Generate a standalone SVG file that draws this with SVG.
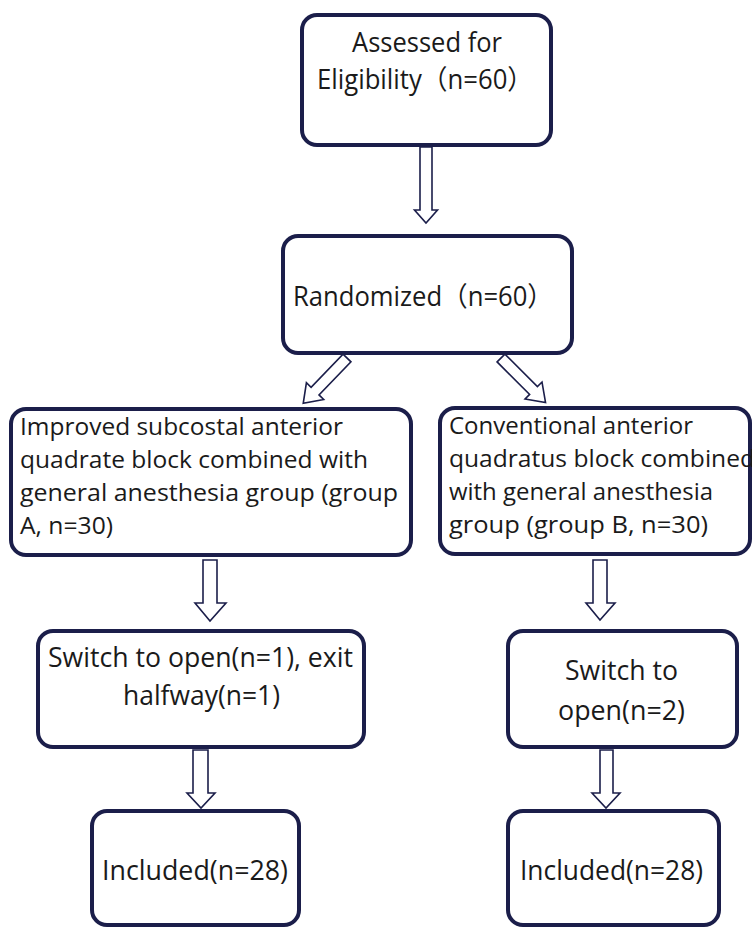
<svg xmlns="http://www.w3.org/2000/svg" width="752" height="929" viewBox="0 0 752 929">
<style>
.box{fill:#fff;stroke:#1b1e4a;stroke-width:4}
.arr{fill:#fff;stroke:#1b1e4a;stroke-width:1.6;stroke-linejoin:miter}
text{font-family:"Open Sans","Noto Sans CJK SC",sans-serif;font-size:24px;fill:#1a1a1a}
.l{font-size:27px}
.m{font-size:27px}
.c{text-anchor:middle}
</style>
<defs>
<path id="varrow" d="M-6,0 L6,0 L6,63 L11.5,63 L0,76 L-11.5,63 L-6,63 Z"/>
<path id="darrow" d="M-5.5,0 L5.5,0 L5.5,46 L12,46 L0,63 L-12,46 L-5.5,46 Z"/>
</defs>
<rect width="752" height="929" fill="#fff"/>
<g id="connectors">
<use href="#varrow" class="arr" transform="translate(426,147)"/>
<use href="#darrow" class="arr" transform="translate(347,358) rotate(44)"/>
<use href="#darrow" class="arr" transform="translate(501,358) rotate(-45)"/>
<path class="arr" d="M203,560 L217,560 L217,603 L226,603 L210,621 L195,603 L203,603 Z"/>
<path class="arr" d="M593,560 L607,560 L607,603 L615,603 L600,620 L586,603 L593,603 Z"/>
<path class="arr" d="M193,750 L208,750 L208,793 L215,793 L201,808 L187,793 L193,793 Z"/>
<path class="arr" d="M600,750 L613,750 L613,793 L620,793 L606,808 L592,793 L600,793 Z"/>
</g>
<g id="n1">
<rect class="box" x="302" y="15" width="249" height="130" rx="15"/>
<text class="l" x="352" y="52" textLength="150" lengthAdjust="spacingAndGlyphs">Assessed for</text>
<text class="l" x="317" y="89" textLength="216" lengthAdjust="spacingAndGlyphs">Eligibility（n=60）</text>
</g>
<g id="n2">
<rect class="box" x="283" y="236" width="289" height="117" rx="15"/>
<text class="l" x="293" y="306" textLength="260" lengthAdjust="spacingAndGlyphs">Randomized（n=60）</text>
</g>
<g id="n3">
<rect class="box" x="11" y="409" width="400" height="146" rx="15"/>
<text x="20" y="435" textLength="323" lengthAdjust="spacingAndGlyphs">Improved subcostal anterior</text>
<text x="20" y="468" textLength="348" lengthAdjust="spacingAndGlyphs">quadrate block combined with</text>
<text x="20" y="501" textLength="378" lengthAdjust="spacingAndGlyphs">general anesthesia group (group</text>
<text x="20" y="534" textLength="93" lengthAdjust="spacingAndGlyphs">A, n=30)</text>
</g>
<g id="n4">
<rect class="box" x="440" y="408" width="310" height="146" rx="15"/>
<text x="449" y="434" textLength="244" lengthAdjust="spacingAndGlyphs">Conventional anterior</text>
<text x="449" y="467" textLength="306" lengthAdjust="spacingAndGlyphs">quadratus block combined</text>
<text x="449" y="500" textLength="264" lengthAdjust="spacingAndGlyphs">with general anesthesia</text>
<text x="449" y="533" textLength="259" lengthAdjust="spacingAndGlyphs">group (group B, n=30)</text>
</g>
<g id="n5">
<rect class="box" x="38" y="631" width="326" height="116" rx="15"/>
<text class="m" x="48" y="667" textLength="305" lengthAdjust="spacingAndGlyphs">Switch to open(n=1), exit</text>
<text class="m" x="123" y="705" textLength="157" lengthAdjust="spacingAndGlyphs">halfway(n=1)</text>
</g>
<g id="n6">
<rect class="box" x="92" y="811" width="207" height="114" rx="15"/>
<text class="m" x="102" y="880" textLength="186" lengthAdjust="spacingAndGlyphs">Included(n=28)</text>
</g>
<g id="n7">
<rect class="box" x="508" y="631" width="229" height="116" rx="15"/>
<text class="m" x="565" y="680" textLength="113" lengthAdjust="spacingAndGlyphs">Switch to</text>
<text class="m" x="558" y="720" textLength="127" lengthAdjust="spacingAndGlyphs">open(n=2)</text>
</g>
<g id="n8">
<rect class="box" x="508" y="811" width="211" height="114" rx="15"/>
<text class="m" x="520" y="880" textLength="183" lengthAdjust="spacingAndGlyphs">Included(n=28)</text>
</g>
</svg>
